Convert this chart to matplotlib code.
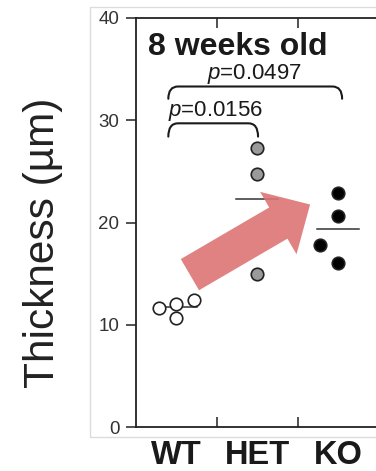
import numpy as np
import matplotlib
matplotlib.use("Agg")
import matplotlib.pyplot as plt
from matplotlib.path import Path
from matplotlib.patches import PathPatch, Rectangle

plt.rcParams['font.family'] = ['Liberation Sans', 'DejaVu Sans']
plt.rcParams['mathtext.fontset'] = 'custom'
plt.rcParams['mathtext.rm'] = 'Liberation Sans'
plt.rcParams['mathtext.it'] = 'Liberation Sans:italic'

# data
groups = ['WT', 'HET', 'KO']
wt = [11.6, 12.05, 10.7, 12.45]
het = [27.3, 24.7, 15.0]
ko = [22.9, 20.6, 17.8, 16.0]
# horizontal jitter of the dots inside each group
wt_dx = [-0.22, 0.0, 0.0, 0.22]
het_dx = [0.0, 0.0, 0.0]
ko_dx = [0.0, 0.0, -0.22, 0.0]
p_values = ['0.0156', '0.0497']
yticks = [0, 10, 20, 30, 40]

fig = plt.figure(figsize=(3.76, 4.71), dpi=100)
# faint frame of the original panel
fig.patches.append(Rectangle((0.239, 0.072), 0.8, 0.913, transform=fig.transFigure,
                             fill=False, edgecolor='#dcdcdc', lw=1.0))
ax = fig.add_axes([0.3617, 0.0934, 0.6449, 0.8684])

styles = [('white', wt, wt_dx), ('#9a9a9a', het, het_dx), ('black', ko, ko_dx)]
for i, (fc, vals, dx) in enumerate(styles):
    x = i + np.array(dx)
    ax.plot(x, vals, 'o', ms=9, mfc=fc, mec='#222222', mew=1.2, zorder=3)
    m = np.mean(vals)
    ax.plot([i - 0.26, i + 0.26], [m, m], color='#333333', lw=1.1, zorder=2)

ax.set_xlim(-0.5, 2.5)
ax.set_ylim(0, 40)

for s in ['left', 'top', 'bottom']:
    ax.spines[s].set_linewidth(1.3)
    ax.spines[s].set_color('#222222')
ax.spines['right'].set_visible(False)

ax.set_yticks(yticks)
ax.tick_params(axis='y', direction='out', length=7, width=1.1, color='#222222',
               labelsize=13.5, labelcolor='#333333', pad=5)
ax.set_xticks([0.5, 1.5])
ax.set_xticklabels([])
ax.tick_params(axis='x', which='major', direction='in', length=7, width=1.1,
               top=True, color='#222222')
ax.set_xticks([0, 1, 2], minor=True)
ax.set_xticklabels(groups, minor=True, fontsize=23.5, fontweight='bold', color='#1a1a1a')
ax.tick_params(axis='x', which='minor', length=0, pad=9)

ax.set_ylabel('Thickness (µm)', fontsize=30.5, color='#222222')
ax.yaxis.set_label_coords(-0.30, 0.45)

ax.text(-0.35, 36.4, '8 weeks old', fontsize=23, fontweight='bold',
        color='#1a1a1a', ha='left', va='baseline')


def bracket(x0, x1, ytop, yend, r=0.12):
    verts = [(x0, yend), (x0, ytop), (x0 + r, ytop), (x1 - r, ytop),
             (x1, ytop), (x1, yend)]
    codes = [Path.MOVETO, Path.CURVE3, Path.CURVE3, Path.LINETO,
             Path.CURVE3, Path.CURVE3]
    ax.add_patch(PathPatch(Path(verts, codes), fill=False, lw=1.5,
                           edgecolor='#1a1a1a', capstyle='round'))


bracket(-0.1, 1.01, 29.7, 28.4)
bracket(-0.1, 2.05, 33.3, 32.1)
ax.text(-0.11, 30.4, '$p$=' + p_values[0], fontsize=16, color='#1a1a1a',
        ha='left', va='baseline')
ax.text(0.38, 34.0, '$p$=' + p_values[1], fontsize=16, color='#1a1a1a',
        ha='left', va='baseline')

# highlight arrow
ax.annotate('', xy=(1.654, 21.76), xytext=(0.167, 14.9),
            arrowprops=dict(arrowstyle='simple,head_length=2.65,head_width=5.2,tail_width=2.6',
                            color='#de7474', alpha=0.9, lw=0,
                            shrinkA=0, shrinkB=0, mutation_scale=10),
            zorder=4)

fig.savefig('out.png', dpi=100)
